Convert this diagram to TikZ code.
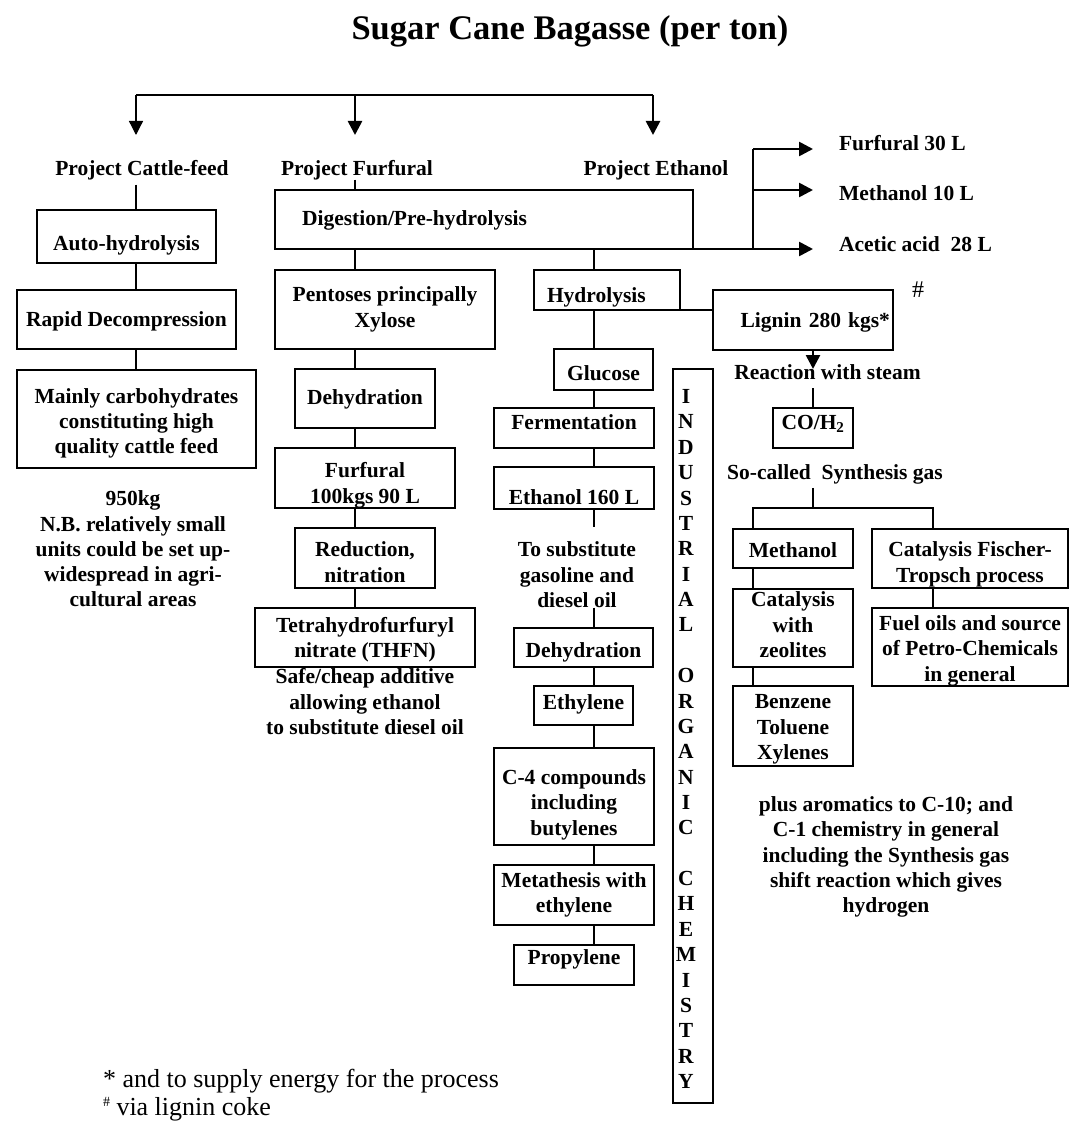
\documentclass[tikz,border=0pt]{standalone}
\usepackage{fontspec}
\setmainfont{Liberation Serif}
\usetikzlibrary{arrows.meta}
% invisible struts that push a multi-line label down or up inside its box
\newcommand\padtop[1]{\rule{0pt}{#1pt}}
\newcommand\padbot[1]{\rule[-#1pt]{0pt}{#1pt}}
\begin{document}
\begin{tikzpicture}[x=1pt, y=-1pt,
  every node/.style={inner sep=0pt, outer sep=0pt},
  lbl/.style={font=\fontsize{21.5}{25.3}\selectfont\bfseries, align=center},
  rimmed/.style={draw, line width=1.3pt},
  box/.style={rimmed, lbl},
  tv/.style={text height=#1pt, text depth=5pt},
  link/.style={line width=1.3pt},
  headtip/.style={-{Triangle[length=14pt,width=14pt]}},
  heavy/.style={line width=2.6pt, headtip},
  note/.style={font=\fontsize{26}{28}\selectfont, anchor=base west},
]
\fill[white] (0,0) rectangle (1070,1121);
\useasboundingbox (0,0) rectangle (1070,1121);

% ---------- title and the three projects ----------
\node[font=\fontsize{34.5}{40}\selectfont\bfseries, anchor=base] (title) at (570,40) {Sugar Cane Bagasse (per ton)};
\node[lbl, anchor=base] (pcattle) at (142,175) {Project Cattle-feed};
\node[lbl, anchor=base] (pfurf)   at (357,175) {Project Furfural};
\node[lbl, anchor=base] (peth)    at (656,175) {Project Ethanol};

\coordinate (barL) at (136,95);
\coordinate (barM) at (355,95);
\coordinate (barR) at (653,95);
\coordinate (aL) at (136,135);
\coordinate (aM) at (355,135);
\coordinate (aR) at (653,135);
\draw[line width=1.7pt] (barL) -- (barR);
\draw[link, headtip] (barL) -- (aL);
\draw[heavy] (barM) -- (aM);
\draw[heavy] (barR) -- (aR);

% column axes
\coordinate (ccol) at (136,0);
\coordinate (fcol) at (355,0);
\coordinate (ecol) at (594,0);
\coordinate (mcol) at (753,0);
\coordinate (ftcol) at (933,0);

% ---------- cattle-feed column ----------
\node[box, minimum width=179pt, minimum height=53pt, tv=32] (auto) at (126.5,236.5) {Auto-hydrolysis};
\node[box, minimum width=219pt, minimum height=59pt, tv=19] (rapid) at (126.5,319.5) {Rapid Decompression};
\node[box, minimum width=239pt, minimum height=98pt] (mainly) at (136.5,419)
  {\padtop{23.6}Mainly carbohydrates\\constituting high\\quality cattle feed};
\node[lbl] (nb) at (133,549) {950kg\\N.B. relatively small\\units could be set up-\\widespread in agri-\\cultural areas};

\draw[link, shorten <=5pt] (pcattle.south -| ccol) -- (auto.north -| ccol);
\draw[link] (auto.south -| ccol) -- (rapid.north -| ccol);
\draw[link] (rapid.south -| ccol) -- (mainly.north -| ccol);

% ---------- furfural column ----------
\node[box, text width=364pt, inner xsep=27pt, minimum height=59pt, align=left, tv=16] (digest) at (484,219.5) {Digestion/Pre-hydrolysis};
\node[box, minimum width=220pt, minimum height=79pt] (pent) at (385,309.5) {Pentoses principally\\Xylose};
\node[box, minimum width=140pt, minimum height=59pt, tv=16] (dehydA) at (365,398.5) {Dehydration};
\node[box, minimum width=180pt, minimum height=60pt] (furf) at (365,478) {\padtop{29.5}Furfural\\100kgs 90 L};
\node[box, minimum width=140pt, minimum height=60pt] (red) at (365,558) {\padtop{23}Reduction,\\nitration};
\node[box, minimum width=220pt, minimum height=59pt] (thfn) at (365,637.5) {\padtop{19.6}Tetrahydrofurfuryl\\nitrate (THFN)};
\node[lbl] (safe) at (365,701.7) {Safe/cheap additive\\allowing ethanol\\to substitute diesel oil};

\draw[link] (pfurf.south -| fcol) -- (digest.north -| fcol);
\draw[link] (digest.south -| fcol) -- (pent.north -| fcol);
\draw[link] (pent.south -| fcol) -- (dehydA.north -| fcol);
\draw[link] (dehydA.south -| fcol) -- (furf.north -| fcol);
\draw[link] (furf.south -| fcol) -- (red.north -| fcol);
\draw[link] (red.south -| fcol) -- (thfn.north -| fcol);

% ---------- by-products of the digestion ----------
\node[lbl, anchor=base west] (outA) at (839,150) {Furfural 30 L};
\node[lbl, anchor=base west] (outB) at (839,200) {Methanol 10 L};
\node[lbl, anchor=base west] (outC) at (839,251) {Acetic acid~ 28 L};
\coordinate (fk)  at (753,249);
\coordinate (fkA) at (753,149);
\coordinate (fkB) at (753,190);
\draw[heavy, shorten >=26pt] ([xshift=-41pt]digest.south east) -- (digest.south east -| outC.west);
\draw[line width=2pt] (fkA) -- (fk);
\draw[heavy, shorten >=26pt] (fkA) -- (fkA -| outA.west);
\draw[heavy, shorten >=26pt] (fkB) -- (fkB -| outB.west);

% ---------- ethanol column ----------
\node[box, text width=120pt, inner xsep=13pt, minimum height=40pt, align=left, tv=29] (hyd) at (607,290) {Hydrolysis};
\node[box, minimum width=99pt, minimum height=41pt, tv=26] (gluc) at (603.5,369.5) {Glucose};
\node[box, minimum width=160pt, minimum height=40pt, tv=7] (ferm) at (574,428) {Fermentation};
\node[box, minimum width=160pt, minimum height=40pt, tv=37] (eth) at (574,488) {Ethanol 160 L};
\node[lbl] (subst) at (577,574.7) {To substitute\\gasoline and\\diesel oil};
\node[box, minimum width=139pt, minimum height=39pt, tv=24] (dehydB) at (583.5,647.5) {Dehydration};
\node[box, minimum width=99pt, minimum height=39pt, tv=12] (ethyl) at (583.5,705.5) {Ethylene};
\node[box, minimum width=160pt, minimum height=97pt] (cfour) at (574,796.5) {\padtop{31.6}C-4 compounds\\including\\butylenes};
\node[box, minimum width=160pt, minimum height=60pt] (meta) at (574,895) {Metathesis with\\ethylene};
\node[box, minimum width=120pt, minimum height=40pt, tv=3] (prop) at (574,965) {Propylene};

\draw[link] (digest.south -| ecol) -- (hyd.north -| ecol);
\draw[link] (hyd.south -| ecol) -- (gluc.north -| ecol);
\draw[link] (gluc.south -| ecol) -- (ferm.north -| ecol);
\draw[link] (ferm.south -| ecol) -- (eth.north -| ecol);
\draw[link, shorten >=15pt] (eth.south -| ecol) -- (subst.north -| ecol);
\draw[link] (subst.south -| ecol) -- (dehydB.north -| ecol);
\draw[link] (dehydB.south -| ecol) -- (ethyl.north -| ecol);
\draw[link] (ethyl.south -| ecol) -- (cfour.north -| ecol);
\draw[link] (cfour.south -| ecol) -- (meta.north -| ecol);
\draw[link] (meta.south -| ecol) -- (prop.north -| ecol);

% ---------- industrial organic chemistry band ----------
\node[rimmed, minimum width=40pt, minimum height=734pt, font=\fontsize{21.5}{25.37}\selectfont\bfseries] (indus) at (693,736)
  {\hspace*{-14pt}\raisebox{-5pt}[\height][\depth]{\begin{tabular}{@{}c@{}}I\\N\\D\\U\\S\\T\\R\\I\\A\\L\\ \\O\\R\\G\\A\\N\\I\\C\\ \\C\\H\\E\\M\\I\\S\\T\\R\\Y\end{tabular}}};

% ---------- lignin branch ----------
\node[box, text width=174pt, inner xsep=3pt, minimum height=60pt, align=right, tv=19] (lig) at (803,320) {Lignin 280 kgs*};
\node[font=\fontsize{24}{28}\selectfont, anchor=base] (hash) at (918,297) {\#};
\node[lbl, anchor=base] (react) at (827.5,379) {Reaction with steam};
\node[box, minimum width=80pt, minimum height=40pt, tv=7] (co) at (813,428) {CO/H\textsubscript{2}};
\node[lbl, anchor=base] (synth) at (835,479) {So-called~ Synthesis gas};
\coordinate (syn) at (813,508);
\node[box, minimum width=120pt, minimum height=39pt, tv=22] (meth) at (793,548.5) {Methanol};
\node[box, minimum width=120pt, minimum height=78pt] (zeo) at (793,628) {Catalysis\\with\\zeolites\padbot{6.6}};
\node[box, minimum width=120pt, minimum height=80pt] (btx) at (793,726) {\padtop{20.7}Benzene\\Toluene\\Xylenes};
\node[box, minimum width=196pt, minimum height=59pt] (ft) at (970,558.5) {\padtop{26.6}Catalysis Fischer-\\Tropsch process};
\node[box, minimum width=196pt, minimum height=78pt] (fuel) at (970,647) {\padtop{22.6}Fuel oils and source\\of Petro-Chemicals\\in general};
\node[lbl] (plus) at (886,857) {plus aromatics to C-10; and\\C-1 chemistry in general\\including the Synthesis gas\\shift reaction which gives\\hydrogen};

\draw[link] (hyd.south east) -- (hyd.south east -| lig.west);
\draw[heavy, shorten >=10pt] (lig.south -| co.north) -- (react.base -| co.north);
\draw[link, shorten <=9pt] (react.south -| co.north) -- (co.north);
\draw[link, shorten <=4pt] (synth.south -| syn) -- (syn);
\draw[link] (meth.north -| mcol) |- (syn) -| (ft.north -| ftcol);
\draw[link] (meth.south -| mcol) -- (zeo.north -| mcol);
\draw[link] (zeo.south -| mcol) -- (btx.north -| mcol);
\draw[link] (ft.south -| ftcol) -- (fuel.north -| ftcol);

% ---------- footnotes ----------
\node[note] (fnA) at (103,1087) {* and to supply energy for the process};
\node[note] (fnB) at (103,1115) {\raisebox{9pt}{\fontsize{14}{14}\selectfont\#} via lignin coke};
\end{tikzpicture}
\end{document}
